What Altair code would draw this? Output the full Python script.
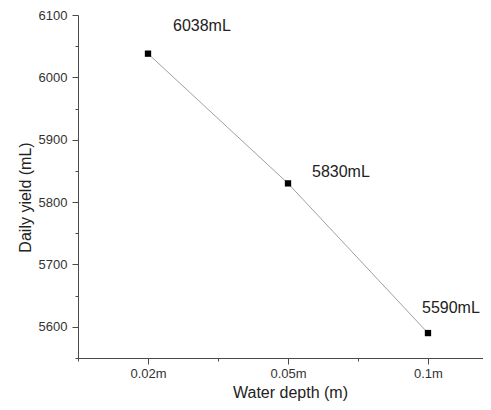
import altair as alt
import pandas as pd

# ---- data ----
categories = ["0.02m", "0.05m", "0.1m"]
yields = [6038, 5830, 5590]
labels = ["6038mL", "5830mL", "5590mL"]
y_ticks = list(range(5550, 6101, 50))
x_ticks = [-0.5, 0, 0.5, 1, 1.5, 2]

df = pd.DataFrame({
    "idx": list(range(len(categories))),
    "depth": categories,
    "yield": yields,
    "label": labels,
})

FONT = "Liberation Sans"
AXIS_COLOR = "#4a4a4a"

label_expr = "[" + ",".join(f"'{c}'" for c in categories) + "][datum.value] || ''"

x_enc = alt.X(
    "idx:Q",
    scale=alt.Scale(domain=[-0.5, 2.393], nice=False, zero=False),
    axis=alt.Axis(
        values=x_ticks,
        labelExpr=label_expr,
        title="Water depth (m)",
        grid=False,
        tickSize=6,
        tickDash={"condition": {"test": "datum.value % 1 !== 0", "value": [3, 20]}, "value": []},
        labelPadding=3,
        labelFontSize=13,
        labelColor="#333333",
        labelFont=FONT,
        domainColor=AXIS_COLOR,
        tickColor=AXIS_COLOR,
        titleFont=FONT,
        titleFontSize=16,
        titleFontWeight="normal",
        titleColor="#222222",
        titleX=212,
        titleY=39,
        titleAlign="center",
        titleBaseline="alphabetic",
        labelFlush=False,
        labelOverlap=False,
    ),
)

y_enc = alt.Y(
    "yield:Q",
    scale=alt.Scale(domain=[5550, 6100], nice=False, zero=False),
    axis=alt.Axis(
        values=y_ticks,
        labelExpr="datum.value % 100 === 0 ? datum.label : ''",
        format="d",
        title="Daily yield (mL)",
        grid=False,
        tickSize=6,
        tickDash={"condition": {"test": "datum.value % 100 !== 0", "value": [3, 20]}, "value": []},
        labelPadding=5,
        labelFontSize=13,
        labelColor="#333333",
        labelFont=FONT,
        domainColor=AXIS_COLOR,
        tickColor=AXIS_COLOR,
        titleFont=FONT,
        titleFontSize=16,
        titleFontWeight="normal",
        titleColor="#222222",
        titleX=-47.5,
        titleY=182,
        titleAngle=270,
        titleAlign="center",
        titleBaseline="alphabetic",
        labelFlush=False,
        labelOverlap=False,
    ),
)

base = alt.Chart(df)

line = base.mark_line(color="#a0a0a0", strokeWidth=1).encode(x=x_enc, y=y_enc)
points = base.mark_point(shape="square", filled=True, color="black", size=40, opacity=1).encode(
    x=x_enc, y=y_enc
)

# per-label text offsets (styling)
label_offsets = [(25, -28), (24, -11), (-6, -25)]
texts = []
for i, (dx, dy) in enumerate(label_offsets):
    texts.append(
        base.transform_filter(alt.datum.idx == i)
        .mark_text(
            align="left",
            baseline="middle",
            dx=dx,
            dy=dy,
            font=FONT,
            fontSize=16,
            color="#222222",
        )
        .encode(x=x_enc, y=y_enc, text="label:N")
    )

chart = (
    alt.layer(line, points, *texts)
    .properties(
        width=405,
        height=343,
        autosize=alt.AutoSizeParams(type="none"),
        padding={"left": 70, "top": 7, "right": 0, "bottom": 43},
        background="white",
    )
    .configure_view(strokeOpacity=0)
)

chart.save("out.html", embed_options={"renderer": "svg", "actions": False})
